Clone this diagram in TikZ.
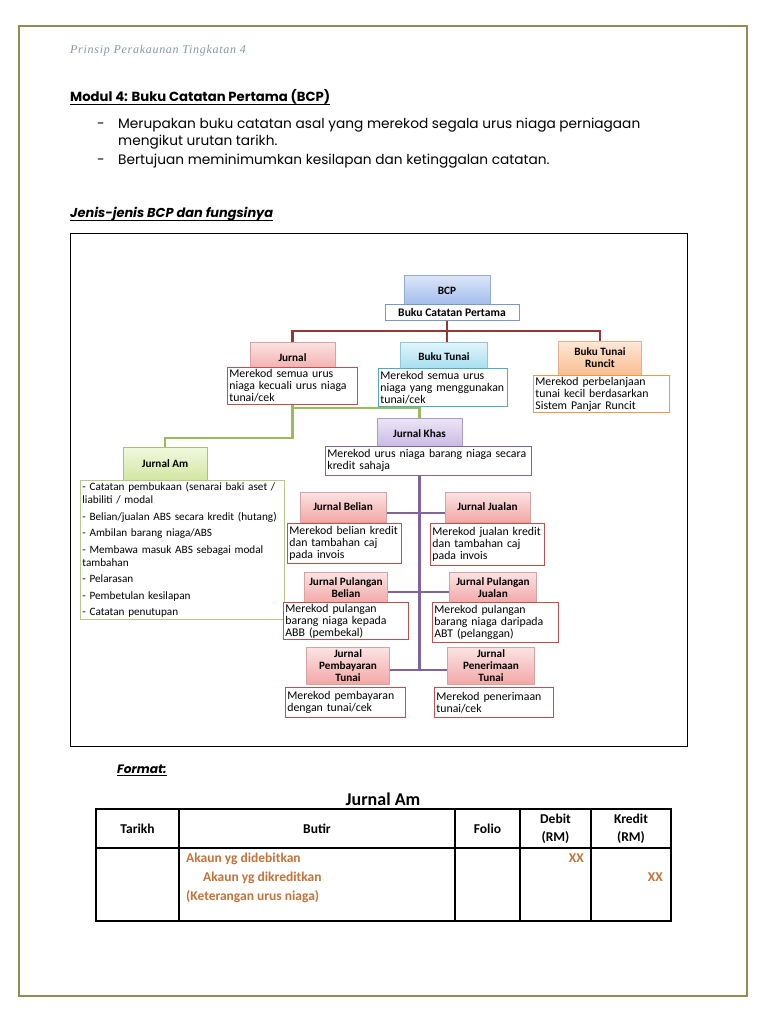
\documentclass[tikz,border=0pt]{standalone}
\usepackage{fontspec}
\setmainfont{Carlito}
\newfontfamily\gothic{Poppins}
\newfontfamily\hdrfont{Liberation Serif}
\usetikzlibrary{positioning,backgrounds}
\definecolor{pageline}{HTML}{948A54}
\definecolor{hdrblue}{HTML}{8496B0}
\definecolor{redlinkc}{HTML}{953734}
\definecolor{greenlinkc}{HTML}{9BBB59}
\definecolor{purplelinkc}{HTML}{7F63A1}
\definecolor{bluetop}{HTML}{DCE6F8}\definecolor{bluebot}{HTML}{A0BBEC}\definecolor{blueedge}{HTML}{95AAD0}
\definecolor{pinktop}{HTML}{FBE3E3}\definecolor{pinkbot}{HTML}{F2A7A6}\definecolor{pinkedge}{HTML}{D6A3A2}
\definecolor{cyantop}{HTML}{E3F5FB}\definecolor{cyanbot}{HTML}{9EDCF0}\definecolor{cyanedge}{HTML}{8FC7D9}
\definecolor{peachtop}{HTML}{FEE8D8}\definecolor{peachbot}{HTML}{F9BD8F}\definecolor{peachedge}{HTML}{E0B28F}
\definecolor{lavtop}{HTML}{ECE6F5}\definecolor{lavbot}{HTML}{C4B5E2}\definecolor{lavedge}{HTML}{A99BC6}
\definecolor{greentop}{HTML}{F2F8E0}\definecolor{greenbot}{HTML}{D0E6A0}\definecolor{greenedge}{HTML}{ABC07E}
\definecolor{jurline}{HTML}{C0504D}
\definecolor{btline}{HTML}{4BACC6}
\definecolor{runline}{HTML}{F79646}
\definecolor{khasline}{HTML}{8064A2}
\definecolor{amline}{HTML}{B5C98A}
\definecolor{subline}{HTML}{7A98C0}
\definecolor{orgtxt}{HTML}{C4733A}
\tikzset{
  txt/.style={inner sep=0pt, anchor=base west},
  bodytxt/.style={txt, font=\gothic\fontsize{13.7}{17}\selectfont},
  titlebox/.style={draw=#1edge, top color=#1top, bottom color=#1bot, line width=0.6pt,
    align=center, inner sep=1pt, font=\fontsize{11.2}{12}\selectfont\bfseries},
  descbox/.style={draw=#1, fill=white, line width=0.8pt, align=left, anchor=north west,
    inner xsep=2pt, inner ysep=1.5pt, font=\fontsize{11.8}{12}\selectfont},
  redlink/.style={draw=redlinkc, line width=2.2pt},
  greenlink/.style={draw=greenlinkc, line width=2.2pt},
  purplelink/.style={draw=purplelinkc, line width=2.2pt},
  tabline/.style={line width=1.1pt},
  tabhead/.style={font=\fontsize{13.5}{18}\selectfont\bfseries, align=center, inner sep=0pt},
  tabbody/.style={txt, text=orgtxt, font=\fontsize{13.5}{16}\selectfont\bfseries}
}
\begin{document}
\begin{tikzpicture}[x=1pt,y=-1pt]
\useasboundingbox (0,0) rectangle (768,1024);
\draw[pageline, line width=1.6pt] (19,26) rectangle (747,996);

\node[txt, text=hdrblue, font=\hdrfont\itshape\fontsize{12}{14}\selectfont\addfontfeatures{LetterSpace=6}] (hdr) at (70,54) {Prinsip Perakaunan Tingkatan 4};
\node[txt, font=\gothic\bfseries\fontsize{13.2}{15}\selectfont] (modul) at (70,102) {Modul 4: Buku Catatan Pertama (BCP)};
\draw[line width=0.9pt] ([yshift=-2.5pt]modul.base west) -- ([yshift=-2.5pt]modul.base east);
\node[bodytxt] (dash1) at (97,129) {-};
\node[bodytxt] (pt1a) at (118,129) {Merupakan buku catatan asal yang merekod segala urus niaga perniagaan};
\node[bodytxt] (pt1b) at (118,146) {mengikut urutan tarikh.};
\node[bodytxt] (dash2) at (97,165) {-};
\node[bodytxt] (pt2) at (118,165) {Bertujuan meminimumkan kesilapan dan ketinggalan catatan.};
\node[txt, font=\gothic\bfseries\itshape\fontsize{12.9}{15}\selectfont] (jenis) at (70,218) {Jenis-jenis BCP dan fungsinya};
\draw[line width=0.9pt] ([yshift=-2.5pt]jenis.base west) -- ([yshift=-2.5pt]jenis.base east);

\draw[line width=0.8pt] (70,233) rectangle (687,746);

\node[titlebox=blue, minimum width=86pt, minimum height=31pt] (bcp) at (447,290.5) {BCP};
\node[draw=subline, fill=white, line width=0.8pt, minimum width=134pt, minimum height=16pt, inner sep=0pt, font=\fontsize{11.6}{12}\selectfont\bfseries] (bcpsub) at (452,312) {Buku Catatan Pertama};

\node[titlebox=pink, minimum width=85pt, minimum height=31pt] (jur) at (292.5,357.5) {Jurnal};
\node[descbox=jurline, text width=126pt, minimum height=37pt] (jurdesc) at (227,367) {Merekod semua urus\\niaga kecuali urus niaga\\tunai/cek};
\node[titlebox=cyan, minimum width=87pt, minimum height=30pt] (btunai) at (444,357) {Buku Tunai};
\node[descbox=btline, text width=125pt, minimum height=38pt] (btdesc) at (378,368) {Merekod semua urus\\niaga yang menggunakan\\tunai/cek};
\node[titlebox=peach, minimum width=83pt, minimum height=34pt] (runcit) at (600,358) {Buku Tunai\\Runcit};
\node[descbox=runline, text width=132pt, minimum height=35pt] (rundesc) at (533,375) {Merekod perbelanjaan\\tunai kecil berdasarkan\\Sistem Panjar Runcit};

\node[titlebox=lav, minimum width=85pt, minimum height=32pt] (khas) at (419.5,434) {Jurnal Khas};
\node[descbox=khasline, text width=202pt, minimum height=29pt] (khasdesc) at (325,446) {Merekod urus niaga barang niaga secara\\kredit sahaja};
\node[titlebox=green, minimum width=84pt, minimum height=34pt] (am) at (165,464) {Jurnal Am};
\node[descbox=amline, text width=200pt, minimum height=139pt, font=\fontsize{11.2}{13}\selectfont] (amdesc) at (80,480) {- Catatan pembukaan (senarai baki aset /\\liabiliti / modal\\[3.5pt]- Belian/jualan ABS secara kredit (hutang)\\[3.5pt]- Ambilan barang niaga/ABS\\[3.5pt]- Membawa masuk ABS sebagai modal\\tambahan\\[3.5pt]- Pelarasan\\[3.5pt]- Pembetulan kesilapan\\[3.5pt]- Catatan penutupan};

\node[titlebox=pink, minimum width=86pt, minimum height=30pt] (belian) at (343,507) {Jurnal Belian};
\node[descbox=jurline, text width=110pt, minimum height=40pt] (beldesc) at (287,523) {Merekod belian kredit\\dan tambahan caj\\pada invois};
\node[titlebox=pink, minimum width=85pt, minimum height=30pt] (jualan) at (487.5,507) {Jurnal Jualan};
\node[descbox=jurline, text width=110pt, minimum height=42pt] (juadesc) at (430,523) {Merekod jualan kredit\\dan tambahan caj\\pada invois};

\node[titlebox=pink, minimum width=83pt, minimum height=31pt] (pulbel) at (346,588) {Jurnal Pulangan\\Belian};
\node[descbox=jurline, text width=121pt, minimum height=36pt] (pbdesc) at (283,602) {Merekod pulangan\\barang niaga kepada\\ABB (pembekal)};
\node[titlebox=pink, minimum width=87pt, minimum height=31pt] (puljua) at (493,588) {Jurnal Pulangan\\Jualan};
\node[descbox=jurline, text width=122pt, minimum height=40pt] (pjdesc) at (432,602) {Merekod pulangan\\barang niaga daripada\\ABT (pelanggan)};

\node[titlebox=pink, minimum width=83pt, minimum height=37pt] (pembayaran) at (348,666) {Jurnal\\Pembayaran\\Tunai};
\node[descbox=jurline, text width=116pt, minimum height=30pt] (pytdesc) at (285,687) {Merekod pembayaran\\dengan tunai/cek};
\node[titlebox=pink, minimum width=87pt, minimum height=37pt] (penerimaan) at (491,666) {Jurnal\\Penerimaan\\Tunai};
\node[descbox=jurline, text width=115pt, minimum height=30pt] (pntdesc) at (434,687) {Merekod penerimaan\\tunai/cek};

\coordinate (rbar) at (0,331);
\coordinate (gA) at (0,408);
\coordinate (gB) at (0,438);
\coordinate (p1) at (0,513);
\coordinate (p2) at (0,592);
\coordinate (p3) at (0,670);
\begin{scope}[on background layer]
\fill[white] (0,0) rectangle (768,1024);
\draw[redlink] (bcp) -- (bcp |- rbar) -| (jur);
\draw[redlink] (bcp |- rbar) -| (runcit);
\draw[redlink] (bcp |- rbar) -- (bcp |- btunai);
\draw[greenlink] (jurdesc) -- (jurdesc |- gB) -| (am);
\draw[greenlink] (jurdesc |- gA) -| (khas);
\draw[purplelink] (khas) -- (khas |- p3);
\draw[purplelink] (belian |- p1) -- (jualan |- p1);
\draw[purplelink] (pulbel |- p2) -- (puljua |- p2);
\draw[purplelink] (pembayaran |- p3) -- (penerimaan |- p3);
\end{scope}

\node[txt, font=\gothic\bfseries\itshape\fontsize{12.2}{14}\selectfont] (fmt) at (117,773) {Format:};
\draw[line width=0.9pt] ([yshift=-2.5pt]fmt.base west) -- ([yshift=-2.5pt]fmt.base east);

\node[font=\fontsize{18}{20}\selectfont\bfseries, inner sep=0pt] (tabtitle) at (383,799) {Jurnal Am};
\draw[tabline] (96,809) rectangle (671,921);
\draw[tabline] (96,848) -- (671,848);
\foreach \cx in {179,455,520,591}
  \draw[tabline] (\cx,809) -- (\cx,921);
\node[tabhead] (thtarikh) at (137.5,829) {Tarikh};
\node[tabhead] (thbutir) at (317,829) {Butir};
\node[tabhead] (thfolio) at (487.5,829) {Folio};
\node[tabhead] (thdebit) at (555.5,829) {Debit\\(RM)};
\node[tabhead] (thkredit) at (631,829) {Kredit\\(RM)};
\node[tabbody] (dr) at (186,862) {Akaun yg didebitkan};
\node[tabbody] (cr) at (203,881) {Akaun yg dikreditkan};
\node[tabbody] (ket) at (186,900) {(Keterangan urus niaga)};
\node[tabbody, anchor=base east] (xxdr) at (584,862) {XX};
\node[tabbody, anchor=base east] (xxcr) at (663,881) {XX};
\end{tikzpicture}
\end{document}
